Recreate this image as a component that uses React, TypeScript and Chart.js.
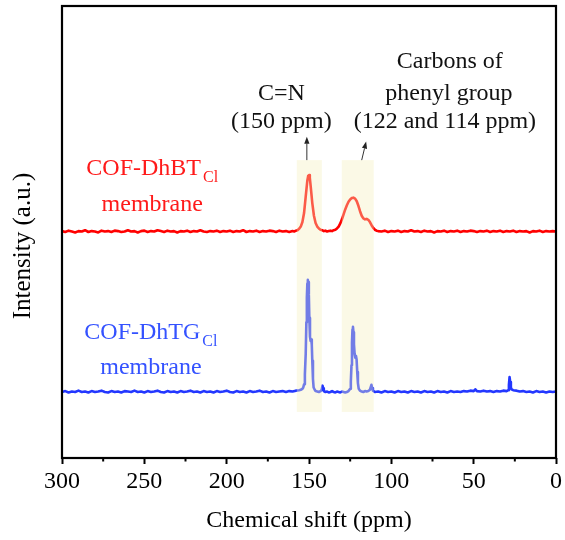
import React, { useEffect, useRef } from 'react';
import { Chart, registerables } from 'chart.js';

Chart.register(...registerables);

const FONT = "'Liberation Serif', 'Times New Roman', Times, serif";

// Chemical shift axis ticks (ppm)
const majorShiftTicks = [300, 250, 200, 150, 100, 50, 0];
const minorShiftTicks = [275, 225, 175, 125, 75, 25];

// Spectra: [chemical shift (ppm), intensity (a.u., offset)]
const dhbtSpectrum: [number, number][] = [
  [300, 50.2], [298, 50.0], [296, 50.3], [294, 50.1], [292, 49.9], [290, 50.2], [288, 50.1], [286, 50.4], [284, 50.0], [282, 50.2],
  [280, 50.1], [278, 49.9], [276, 50.3], [274, 50.1], [272, 50.2], [270, 50.0], [268, 50.3], [266, 50.2], [264, 50.0], [262, 50.1],
  [260, 50.4], [258, 50.1], [256, 50.2], [254, 49.9], [252, 50.2], [250, 50.3], [248, 50.0], [246, 50.2], [244, 50.1], [242, 50.4],
  [240, 50.2], [238, 50.0], [236, 50.3], [234, 50.1], [232, 50.2], [230, 49.9], [228, 50.2], [226, 50.1], [224, 50.3], [222, 50.0],
  [220, 50.2], [218, 50.1], [216, 50.4], [214, 50.1], [212, 50.0], [210, 50.2], [208, 50.1], [206, 50.3], [204, 50.0], [202, 50.2],
  [200, 50.1], [198, 50.3], [196, 50.0], [194, 50.2], [192, 50.1], [190, 50.4], [188, 50.0], [186, 50.2], [184, 50.1], [182, 50.3],
  [180, 50.0], [178, 50.2], [176, 50.1], [174, 50.3], [172, 50.2], [170, 50.0], [168, 50.3], [166, 50.1], [164, 50.2], [162, 50.0],
  [160, 50.2], [159, 50.1], [158, 50.3], [157, 50.4], [156, 50.7], [155, 51.2], [154, 52.2], [153, 54.2], [152, 57.8], [151, 61.4],
  [150.5, 62.4], [150, 62.6], [149.5, 62.0], [149, 60.2], [148, 56.4], [147, 53.6], [146, 52.0], [145, 51.2], [144, 50.8], [143, 50.5],
  [142, 50.4], [141, 50.2], [140, 50.3], [139, 50.1], [138, 50.2], [137, 50.3], [136, 50.2], [135, 50.4], [134, 50.5], [133, 50.8],
  [132, 51.2], [131, 51.9], [130, 52.8], [129, 53.9], [128, 55.0], [127, 55.9], [126, 56.7], [125, 57.2], [124, 57.5], [123, 57.6],
  [122, 57.4], [121, 56.8], [120, 55.8], [119, 54.6], [118, 53.6], [117, 53.0], [116, 52.8], [115, 52.9], [114, 52.7], [113, 52.2],
  [112, 51.5], [111, 50.9], [110, 50.5], [109, 50.3], [108, 50.2], [106, 50.1], [104, 50.3], [102, 50.0], [100, 50.2],
  [98, 50.1], [96, 50.3], [94, 50.0], [92, 50.2], [90, 50.1], [88, 50.4], [86, 50.1], [84, 50.2], [82, 50.0], [80, 50.3],
  [78, 50.1], [76, 50.2], [74, 49.9], [72, 50.2], [70, 50.1], [68, 50.3], [66, 50.0], [64, 50.2], [62, 50.1], [60, 50.3],
  [58, 50.0], [56, 50.2], [54, 50.1], [52, 50.3], [50, 50.2], [48, 50.0], [46, 50.2], [44, 50.1], [42, 50.3], [40, 50.0],
  [38, 50.2], [36, 50.1], [34, 50.3], [32, 50.0], [30, 50.2], [28, 50.1], [26, 50.3], [24, 50.0], [22, 50.2], [20, 50.1],
  [18, 50.2], [16, 49.9], [14, 50.2], [12, 50.1], [10, 50.3], [8, 50.0], [6, 50.2], [4, 50.1], [2, 50.2], [0, 50.1],
];

const dhtgSpectrum: [number, number][] = [
  [300, 14.6], [298, 14.8], [296, 14.5], [294, 14.7], [292, 14.6], [290, 14.9], [288, 14.6], [286, 14.7], [284, 14.5], [282, 14.8],
  [280, 14.6], [278, 14.7], [276, 14.9], [274, 14.6], [272, 14.5], [270, 14.8], [268, 14.6], [266, 14.7], [264, 14.5], [262, 14.8],
  [260, 14.7], [258, 14.6], [256, 14.9], [254, 14.6], [252, 14.7], [250, 14.5], [248, 14.8], [246, 14.6], [244, 14.7], [242, 14.9],
  [240, 14.6], [238, 14.5], [236, 14.8], [234, 14.6], [232, 14.7], [230, 14.5], [228, 14.8], [226, 14.6], [224, 14.7], [222, 14.9],
  [220, 14.6], [218, 14.7], [216, 14.5], [214, 14.8], [212, 14.6], [210, 14.7], [208, 14.5], [206, 14.8], [204, 14.6], [202, 14.7],
  [200, 14.9], [198, 14.6], [196, 14.5], [194, 14.8], [192, 14.6], [190, 14.7], [188, 14.5], [186, 14.8], [184, 14.6], [182, 14.7],
  [180, 14.9], [178, 14.6], [176, 14.7], [174, 14.5], [172, 14.8], [170, 14.6], [168, 14.7], [166, 14.8], [164, 14.6], [162, 14.8],
  [160, 14.7], [158, 14.9], [156, 15.0], [155, 15.1], [154, 15.3], [153.5, 15.6], [153, 16.3], [152.5, 18.5], [152, 23.0], [151.6, 30.0],
  [151.3, 35.5], [151.0, 38.6], [150.7, 39.4], [150.4, 38.9], [150.1, 36.2], [149.8, 31.0], [149.4, 26.8], [149.0, 25.9], [148.6, 26.2], [148.3, 25.0],
  [148, 21.5], [147.6, 17.5], [147.2, 15.6], [146.5, 15.1], [146, 14.8], [145, 14.7], [144, 14.6], [143, 14.8], [142.3, 15.1], [141.8, 16.0],
  [141.4, 15.4], [141, 14.8], [140, 14.6], [139, 14.7], [138, 14.5], [137, 14.6], [136, 14.8], [135, 14.6], [134, 14.5], [133, 14.7],
  [132, 14.6], [131, 14.5], [130, 14.7], [129, 14.6], [128, 14.5], [127, 14.6], [126, 14.8], [125, 15.3], [124.6, 16.8], [124.2, 20.5],
  [123.9, 25.5], [123.6, 28.4], [123.3, 29.0], [123, 27.8], [122.7, 25.2], [122.3, 23.0], [121.9, 22.2], [121.5, 22.6], [121.1, 21.8], [120.7, 19.0],
  [120.3, 16.6], [119.8, 15.3], [119, 14.9], [118, 14.7], [117, 14.6], [116, 14.8], [115, 14.7], [114, 14.8], [113, 15.1], [112.5, 15.7],
  [112.1, 16.2], [111.7, 15.5], [111.2, 14.9], [110, 14.6], [108, 14.7], [106, 14.5], [104, 14.8], [102, 14.6], [100, 14.7],
  [98, 14.5], [96, 14.8], [94, 14.6], [92, 14.7], [90, 14.5], [88, 14.8], [86, 14.6], [84, 14.7], [82, 14.5], [80, 14.8],
  [78, 14.6], [76, 14.7], [74, 14.5], [72, 14.8], [70, 14.6], [68, 14.7], [66, 14.5], [64, 14.8], [62, 14.6], [60, 14.7],
  [58, 14.6], [56, 14.8], [54, 14.7], [52, 14.9], [50, 14.8], [49, 15.2], [48, 14.8], [46, 14.7], [44, 14.9], [42, 14.7],
  [40, 14.8], [38, 14.6], [36, 14.8], [34, 14.7], [32, 14.9], [30, 14.8], [29, 15.0], [28.6, 16.2], [28.2, 17.9], [27.8, 16.8],
  [27.4, 15.6], [27, 15.2], [26, 15.0], [24, 14.9], [22, 14.7], [20, 14.8], [18, 14.6], [16, 14.7], [14, 14.5], [12, 14.8],
  [10, 14.6], [8, 14.7], [6, 14.5], [4, 14.7], [2, 14.6], [0, 14.7],
];

// Highlighted bands [from ppm, to ppm]
const highlightBands: [number, number][] = [
  [157.4, 142.2],
  [130.1, 110.7],
];
const bandTopValue = 65.9;
const bandBottomValue = 10.2;

// Annotation texts: [text, ppm (centre), intensity (baseline)]
const annotationTexts: [string, number, number][] = [
  ['C=N', 166.8, 79.2],
  ['(150 ppm)', 166.8, 72.9],
  ['Carbons of', 64.5, 86.2],
  ['phenyl group', 65.0, 79.2],
  ['(122 and 114 ppm)', 67.5, 72.9],
];

// Arrows: [from ppm, from value, to ppm, to value]
const annotationArrows: [number, number, number, number][] = [
  [151.3, 65.9, 151.3, 71.1],
  [118.0, 65.9, 115.3, 70.0],
];

// Series labels
const seriesLabels = [
  { main: 'COF-DhBT', sub: 'Cl', second: 'membrane', color: '#ff1a1a', ppm: 245.2, v1: 62.6, v2: 54.6 },
  { main: 'COF-DhTG', sub: 'Cl', second: 'membrane', color: '#3452ff', ppm: 246.0, v1: 26.3, v2: 18.6 },
];

const decorPlugin = {
  id: 'decor',
  afterDatasetsDraw(chart: any) {
    const { ctx, scales } = chart;
    const x = scales.x;
    const y = scales.y;
    ctx.save();
    ctx.fillStyle = 'rgba(245,240,188,0.38)';
    const yt = y.getPixelForValue(bandTopValue);
    const yb = y.getPixelForValue(bandBottomValue);
    for (const [a, b] of highlightBands) {
      const xa = x.getPixelForValue(a);
      const xb = x.getPixelForValue(b);
      ctx.fillRect(Math.min(xa, xb), yt, Math.abs(xb - xa), yb - yt);
    }
    ctx.restore();
  },
  afterDraw(chart: any) {
    const { ctx, chartArea, scales } = chart;
    const x = scales.x;
    const y = scales.y;
    ctx.save();
    // frame
    ctx.strokeStyle = '#000';
    ctx.lineWidth = 2.2;
    ctx.strokeRect(chartArea.left, chartArea.top, chartArea.right - chartArea.left, chartArea.bottom - chartArea.top);
    // minor ticks
    ctx.lineWidth = 2;
    for (const v of minorShiftTicks) {
      const px = x.getPixelForValue(v);
      ctx.beginPath();
      ctx.moveTo(px, chartArea.bottom);
      ctx.lineTo(px, chartArea.bottom + 3.5);
      ctx.stroke();
    }
    // annotation texts
    ctx.fillStyle = '#111';
    ctx.font = `24px ${FONT}`;
    ctx.textAlign = 'center';
    ctx.textBaseline = 'alphabetic';
    for (const [t, p, v] of annotationTexts) {
      ctx.fillText(t, x.getPixelForValue(p), y.getPixelForValue(v));
    }
    // arrows
    ctx.strokeStyle = '#333';
    ctx.fillStyle = '#222';
    ctx.lineWidth = 1;
    for (const [p1, v1, p2, v2] of annotationArrows) {
      const x1 = x.getPixelForValue(p1), y1 = y.getPixelForValue(v1);
      const x2 = x.getPixelForValue(p2), y2 = y.getPixelForValue(v2);
      const ang = Math.atan2(y2 - y1, x2 - x1);
      const hl = 7, hw = 2.6;
      const bx = x2 - hl * Math.cos(ang), by = y2 - hl * Math.sin(ang);
      ctx.beginPath();
      ctx.moveTo(x1, y1);
      ctx.lineTo(bx, by);
      ctx.stroke();
      ctx.beginPath();
      ctx.moveTo(x2, y2);
      ctx.lineTo(bx - hw * Math.sin(ang), by + hw * Math.cos(ang));
      ctx.lineTo(bx + hw * Math.sin(ang), by - hw * Math.cos(ang));
      ctx.closePath();
      ctx.fill();
    }
    // series labels
    for (const lab of seriesLabels) {
      const cx = x.getPixelForValue(lab.ppm);
      ctx.fillStyle = lab.color;
      ctx.font = `24px ${FONT}`;
      const wMain = ctx.measureText(lab.main).width;
      ctx.font = `16px ${FONT}`;
      const wSub = ctx.measureText(lab.sub).width;
      const startX = cx - (wMain + 2 + wSub) / 2;
      const by1 = y.getPixelForValue(lab.v1);
      ctx.textAlign = 'left';
      ctx.font = `24px ${FONT}`;
      ctx.fillText(lab.main, startX, by1);
      ctx.font = `16px ${FONT}`;
      ctx.fillText(lab.sub, startX + wMain + 2, by1 + 6.5);
      ctx.textAlign = 'center';
      ctx.font = `24px ${FONT}`;
      ctx.fillText(lab.second, cx, y.getPixelForValue(lab.v2));
    }
    // y-axis title
    ctx.fillStyle = '#000';
    ctx.font = `25px ${FONT}`;
    ctx.translate(23, (chartArea.top + chartArea.bottom) / 2 + 14);
    ctx.rotate(-Math.PI / 2);
    ctx.textAlign = 'center';
    ctx.textBaseline = 'middle';
    ctx.fillText('Intensity (a.u.)', 0, 0);
    ctx.restore();
  },
};

export default function App() {
  const canvasRef = useRef<HTMLCanvasElement | null>(null);

  useEffect(() => {
    document.body.style.margin = '0';
    const canvas = canvasRef.current;
    if (!canvas) return;
    const chart = new Chart(canvas, {
      type: 'line',
      data: {
        datasets: [
          {
            label: 'COF-DhBTCl membrane',
            data: dhbtSpectrum.map(([px, py]) => ({ x: px, y: py })),
            borderColor: 'rgb(255,0,0)',
            borderWidth: 2.6,
            borderJoinStyle: 'round',
            borderCapStyle: 'round',
            pointRadius: 0,
            tension: 0,
          },
          {
            label: 'COF-DhTGCl membrane',
            data: dhtgSpectrum.map(([px, py]) => ({ x: px, y: py })),
            borderColor: 'rgb(35,55,255)',
            borderWidth: 2.6,
            borderJoinStyle: 'round',
            borderCapStyle: 'round',
            pointRadius: 0,
            tension: 0,
          },
        ],
      },
      options: {
        animation: false,
        responsive: false,
        maintainAspectRatio: false,
        layout: { padding: { top: 6, right: 8, left: 0, bottom: 0 } },
        plugins: {
          legend: { display: false },
          tooltip: { enabled: false },
        },
        scales: {
          x: {
            type: 'linear',
            reverse: true,
            min: 0,
            max: 300,
            afterBuildTicks: (scale: any) => {
              scale.ticks = majorShiftTicks.map((value) => ({ value }));
            },
            afterFit: (scale: any) => {
              scale.height = 82;
            },
            border: { display: false },
            grid: {
              drawOnChartArea: false,
              drawTicks: true,
              tickLength: 6,
              tickWidth: 2,
              tickColor: '#000',
            },
            ticks: {
              autoSkip: false,
              maxRotation: 0,
              padding: 3,
              color: '#000',
              font: { family: FONT, size: 24 },
              callback: (v: any) => String(v),
            },
            title: {
              display: true,
              text: 'Chemical shift (ppm)',
              color: '#000',
              font: { family: FONT, size: 24 },
              padding: { top: 0, bottom: 5 },
            },
          },
          y: {
            type: 'linear',
            min: 0,
            max: 100,
            afterFit: (scale: any) => {
              scale.width = 62;
            },
            border: { display: false },
            grid: { display: false, drawTicks: false },
            ticks: { display: false },
            title: { display: false },
          },
        },
      },
      plugins: [decorPlugin],
    });
    return () => chart.destroy();
  }, []);

  return (
    <div style={{ width: 565, height: 540 }}>
      <canvas ref={canvasRef} width={565} height={540} style={{ display: 'block' }} />
    </div>
  );
}
